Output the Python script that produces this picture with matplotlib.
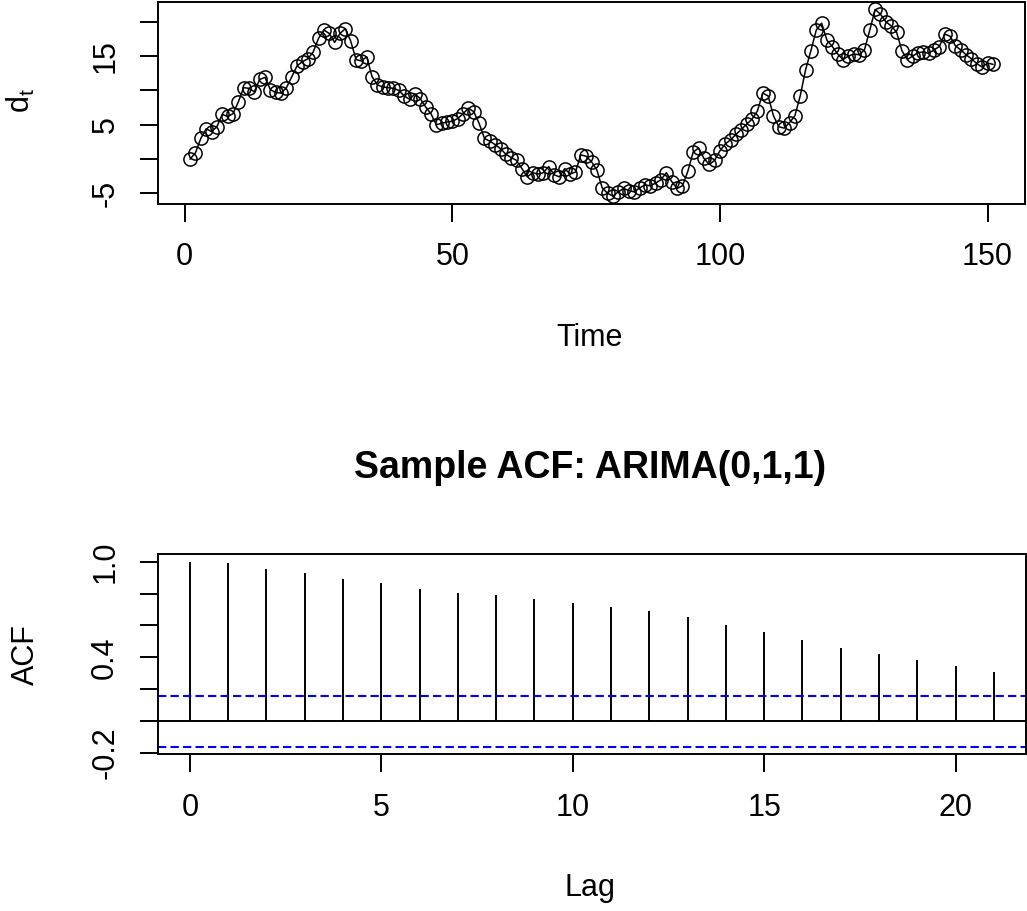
import matplotlib
matplotlib.use("Agg")
import matplotlib.pyplot as plt
import numpy as np

# Series d_t (time 1..151)
time = list(range(1, 152))
d_t = [
    0.0, 0.9, 3.0, 4.4, 4.0, 4.7, 6.5, 6.2, 6.6, 8.3,
    10.4, 10.3, 9.8, 11.6, 11.9, 10.1, 9.7, 9.6, 10.4, 12.0,
    13.6, 14.2, 14.6, 15.6, 17.6, 18.8, 18.3, 17.0, 18.3, 19.0,
    17.2, 14.5, 14.3, 14.9, 12.0, 10.8, 10.5, 10.4, 10.3, 10.0,
    9.2, 8.7, 9.5, 8.8, 7.6, 6.6, 5.0, 5.2, 5.4, 5.5,
    5.9, 6.6, 7.4, 6.9, 5.2, 3.0, 2.6, 2.1, 1.5, 0.7,
    0.2, -0.2, -1.4, -2.6, -2.0, -2.2, -2.0, -1.1, -2.3, -2.6,
    -1.4, -2.2, -1.9, 0.6, 0.4, -0.4, -1.6, -4.2, -5.0, -5.4,
    -4.8, -4.3, -4.6, -4.8, -4.2, -3.8, -3.9, -3.5, -3.0, -2.0,
    -3.3, -4.3, -3.9, -1.8, 1.0, 1.6, 0.1, -0.8, -0.2, 1.2,
    2.2, 2.8, 3.6, 4.3, 5.1, 5.8, 7.0, 9.6, 9.2, 6.3,
    4.7, 4.5, 5.3, 6.3, 9.2, 13.0, 15.8, 18.8, 19.8, 17.3,
    16.4, 15.3, 14.5, 15.0, 15.3, 15.2, 15.9, 18.8, 21.8, 21.1,
    20.0, 19.4, 18.5, 15.8, 14.5, 15.0, 15.5, 15.6, 15.4, 15.9,
    16.4, 18.2, 17.9, 16.5, 15.9, 15.2, 14.6, 13.9, 13.4, 14.0,
    13.8,
]

# Sample ACF
lags = list(range(0, 22))
acf = [1.0, 0.99, 0.953, 0.928, 0.89, 0.865, 0.827, 0.802, 0.789, 0.764,
       0.738, 0.713, 0.688, 0.65, 0.6, 0.562, 0.511, 0.461, 0.423, 0.385,
       0.347, 0.309]
conf = 0.16

top_xticks = [0, 50, 100, 150]
top_yticks = [-5, 0, 5, 10, 15, 20]
top_ylabels = ["-5", "", "5", "", "15", ""]
acf_xticks = [0, 5, 10, 15, 20]
acf_yticks = [-0.2, 0.0, 0.2, 0.4, 0.6, 0.8, 1.0]
acf_ylabels = ["-0.2", "", "", "0.4", "", "", "1.0"]

plt.rcParams["font.family"] = ["Liberation Sans", "DejaVu Sans"]
plt.rcParams["axes.unicode_minus"] = False
plt.rcParams["mathtext.fontset"] = "custom"
plt.rcParams["mathtext.rm"] = "Liberation Sans"
plt.rcParams["mathtext.it"] = "Liberation Sans"

W, H = 1027, 911
FS = 22


def r_lim(lo, hi):
    # R style 4% axis extension
    ext = 0.04 * (hi - lo)
    return lo - ext, hi + ext


def style_axes(ax):
    for sp in ax.spines.values():
        sp.set_linewidth(1.4)
    ax.tick_params(axis="both", direction="out", length=13, width=1.4,
                   labelsize=FS, colors="black")
    ax.tick_params(axis="x", pad=15)
    ax.tick_params(axis="y", pad=14)
    for lab in ax.get_yticklabels():
        lab.set_rotation(90)
        lab.set_va("center")


fig = plt.figure(figsize=(W / 100, H / 100), dpi=100)

# top: time series
ax1 = fig.add_axes([158 / W, 1 - 203.5 / H, 867 / W, 201.5 / H])
ax1.plot(time, d_t, color="black", lw=1.1, marker="o", ms=9.5,
         mfc="none", mec="black", mew=1.1)
ax1.set_xlim(r_lim(min(time), max(time)))
ax1.set_ylim(r_lim(min(d_t), max(d_t)))
ax1.set_xticks(top_xticks)
ax1.set_xticklabels([str(v) for v in top_xticks])
ax1.set_yticks(top_yticks)
ax1.set_yticklabels(top_ylabels)
style_axes(ax1)

# bottom: ACF
ax2 = fig.add_axes([157.7 / W, 1 - 754 / H, 868.3 / W, 199.7 / H])
ax2.vlines(lags, 0, acf, color="black", lw=1.4)
ax2.axhline(0, color="black", lw=1.4)
ax2.axhline(conf, color="#0000FF", lw=1.5, linestyle=(0, (4, 2)))
ax2.axhline(-conf, color="#0000FF", lw=1.5, linestyle=(0, (4, 2)))
ax2.set_xlim(r_lim(min(lags), max(lags)))
ax2.set_ylim(r_lim(min(-conf, min(acf)), max(conf, max(acf))))
ax2.set_xticks(acf_xticks)
ax2.set_xticklabels([str(v) for v in acf_xticks])
ax2.set_yticks(acf_yticks)
ax2.set_yticklabels(acf_ylabels)
style_axes(ax2)

# labels and title
fig.text(21 / W, 1 - 100 / H, r"$\mathregular{d_t}$", rotation=90,
         ha="center", va="center", fontsize=FS)
fig.text(590 / W, 1 - 338 / H, "Time", ha="center", va="center", fontsize=FS)
fig.text(590 / W, 1 - 468 / H, "Sample ACF: ARIMA(0,1,1)", ha="center",
         va="center", fontsize=27, fontweight="bold")
fig.text(25.5 / W, 1 - 655 / H, "ACF", rotation=90, ha="center",
         va="center", fontsize=FS)
fig.text(590 / W, 1 - 888 / H, "Lag", ha="center", va="center", fontsize=FS)

fig.savefig("out.png", dpi=100, facecolor="white")
